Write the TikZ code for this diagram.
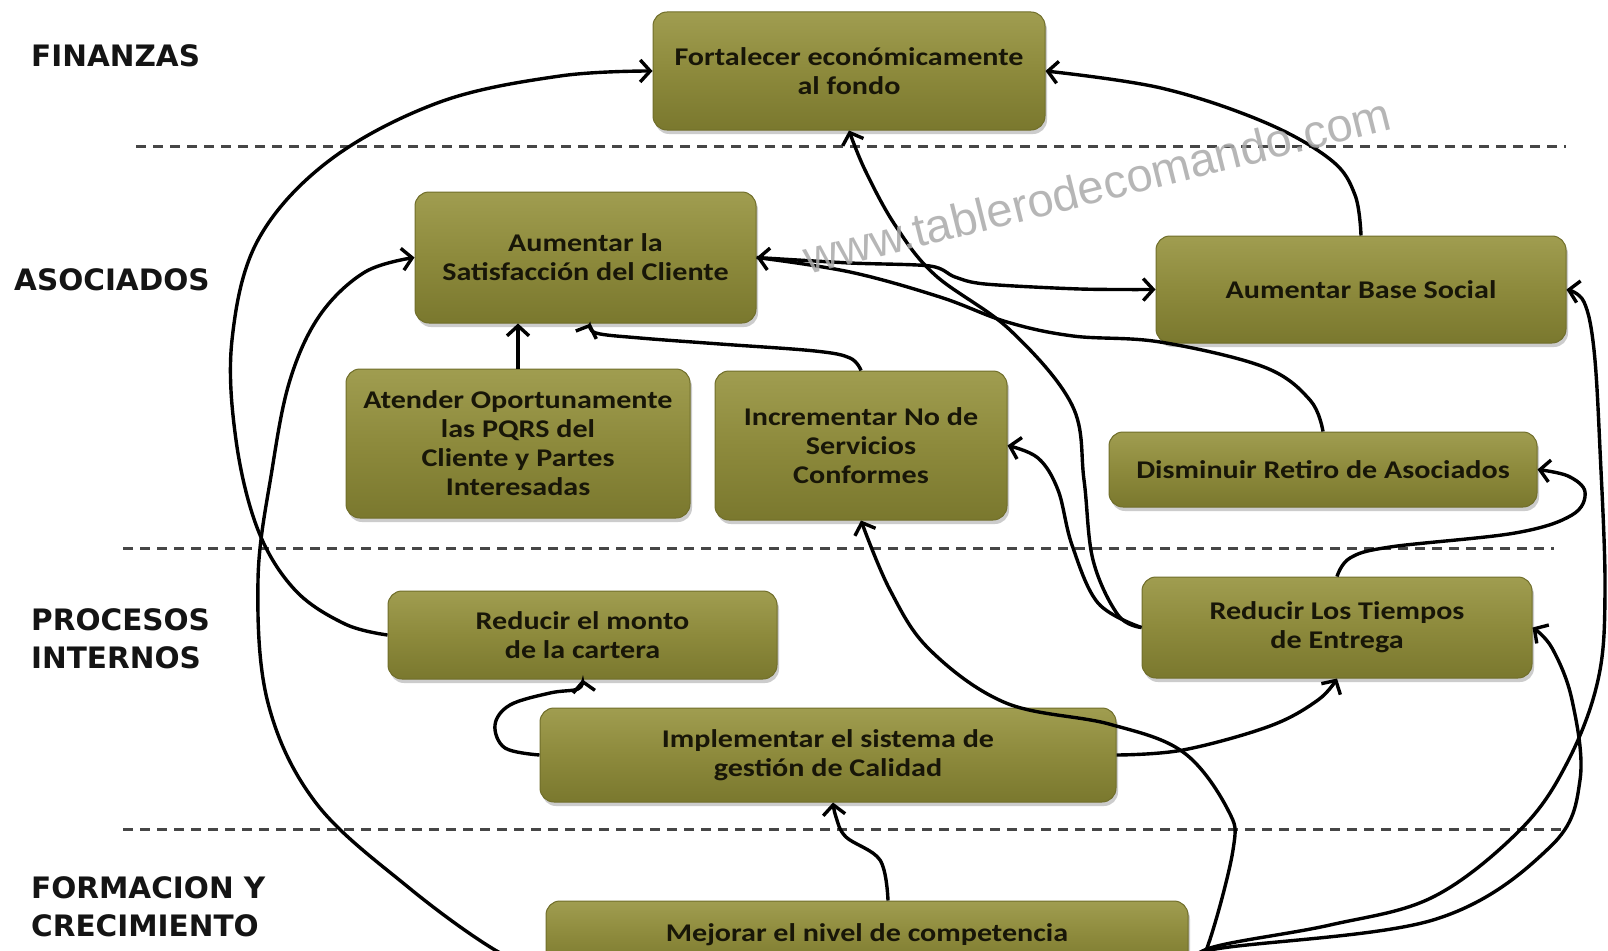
\documentclass[tikz,border=0pt]{standalone}
\usepackage{fontspec}
\newfontfamily\boxfont[FakeStretch=1.18]{Carlito}
\newfontfamily\labfont{DejaVu Sans}
\newfontfamily\wmfont{Liberation Sans}
\usetikzlibrary{arrows.meta,shadows,calc}
\definecolor{boxtop}{RGB}{160,157,80}
\definecolor{boxmid}{RGB}{141,138,60}
\definecolor{boxbot}{RGB}{122,120,46}
\definecolor{boxedge}{RGB}{112,110,42}
\definecolor{txtc}{RGB}{24,22,8}
\definecolor{dashc}{RGB}{70,70,70}
\definecolor{wmc}{RGB}{170,170,170}
\tikzset{
  box/.style={rectangle, rounded corners=14pt, top color=boxtop, bottom color=boxbot, middle color=boxmid,
    draw=boxedge, line width=1pt, drop shadow={opacity=0.4,shadow xshift=2pt,shadow yshift=-4pt},
    font=\boxfont\bfseries\fontsize{25.5}{29}\selectfont, text=txtc, align=center, inner sep=0pt},
  conn/.style={line width=3.4pt, black, -{Straight Barb[length=10pt,width=22pt]}},
  lane/.style={dashc, line width=3pt, dash pattern=on 10pt off 7pt},
  lab/.style={font=\labfont\bfseries\fontsize{29.5}{38}\selectfont, text=black!92, anchor=west, align=left, inner sep=0pt},
  wmark/.style={font=\wmfont\fontsize{47}{50}\selectfont, text=wmc, text opacity=0.85, anchor=base, inner sep=0pt}
}
\begin{document}
\begin{tikzpicture}[x=1pt,y=-1pt]
\useasboundingbox (0,0) rectangle (1608,950);
\fill[white] (0,0) rectangle (1608,950);

% lane separators
\draw[lane] (136,146) -- (1566,146);
\draw[lane] (123,548) -- (1554,548);
\draw[lane] (123,829) -- (1566,829);

% lane labels
\node[lab] (lf) at (31,56) {FINANZAS};
\node[lab] (la) at (14,280) {ASOCIADOS};
\node[lab] (lp) at (31,639) {PROCESOS\\INTERNOS};
\node[lab] (lc) at (31,906.5) {FORMACION Y\\CRECIMIENTO};

% boxes
\node[box, minimum width=392pt, minimum height=118pt] (F) at (849,71) {Fortalecer económicamente\\al fondo};
\node[box, minimum width=341pt, minimum height=131pt] (S) at (585.5,257.5) {Aumentar la\\Satisfacción del Cliente};
\node[box, minimum width=410pt, minimum height=107pt] (B) at (1361,289.5) {Aumentar Base Social};
\node[box, minimum width=344pt, minimum height=149pt] (A) at (518,443.5) {Atender Oportunamente\\las PQRS del\\Cliente y Partes\\Interesadas};
\node[box, minimum width=292pt, minimum height=149pt] (I) at (861,445.5) {Incrementar No de\\Servicios\\Conformes};
\node[box, minimum width=428pt, minimum height=75pt] (D) at (1323,469.5) {Disminuir Retiro de Asociados};
\node[box, minimum width=389pt, minimum height=88pt] (M) at (582.5,635) {Reducir el monto\\de la cartera};
\node[box, minimum width=390pt, minimum height=101pt] (T) at (1337,627.5) {Reducir Los Tiempos\\de Entrega};
\node[box, minimum width=576pt, minimum height=94pt] (Q) at (828,755) {Implementar el sistema de\\gestión de Calidad};
\node[box, minimum width=642pt, minimum height=68pt] (C) at (867,935) {Mejorar el nivel de competencia};

% connectors
\draw[conn] plot[smooth, tension=0.6] coordinates {(M.west) (345,624) (295,590) (258,530) (236,440) (232,340) (258,240) (330,160) (440,102) (560,76) (F.west)};
\draw[conn] plot[smooth, tension=0.6] coordinates {(C.south west) (495,950) (408,887) (316,803) (268,703) (258,580) (272,470) (290,380) (320,315) (365,272) (S.west)};
\draw[conn] plot[smooth, tension=0.5] coordinates {(S.east) (850,263) (930,266) (955,277) (985,284) (1080,289) (B.west)};
\draw[conn] plot[smooth, tension=0.6] coordinates {(D.north) (1310,400) (1264,367) (1160,342) (1073,336) (1007,322) (940,297) (850,272) (S.east)};
\draw[conn] plot[smooth, tension=0.6] coordinates {(B.north) (1355,195) (1331,160) (1264,122) (1161,88) (F.east)};
\draw[conn] plot[smooth, tension=0.6] coordinates {(T.west) (1118,615) (1093,560) (1084,480) (1072,405) (1010,330) (935,275) (895,225) (865,170) (F.south)};
\draw[conn] plot[smooth, tension=0.6] coordinates {(T.west) (1098,603) (1072,545) (1058,490) (1038,458) (I.east)};
\draw[conn] plot[smooth, tension=0.6] coordinates {(T.north) (1350,558) (1390,547) (1515,533) (1572,515) (1585,492) (1568,476) (D.east)};
\draw[conn] plot[smooth, tension=0.6] coordinates {(C.south east) (1210,948) (1330,925) (1433,897) (1520,830) (1567,763) (1598,680) (1605,590) (1600,450) (1594,350) (1584,302) (B.east)};
\draw[conn] plot[smooth, tension=0.6] coordinates {(C.south east) (1210,950) (1433,920) (1550,847) (1580,780) (1572,700) (1552,648) (T.east)};
\draw[conn] plot[smooth, tension=0.6] coordinates {(Q.east) (1183,750) (1270,726) (1318,700) (T.south)};
\draw[conn] plot[smooth, tension=0.6] coordinates {(C.south east) (1207,948) (1233,850) (1228,810) (1183,752) (1109,724) (1006,703) (930,650) (890,590) (I.south)};
\draw[conn] plot[smooth, tension=0.6] coordinates {(Q.west) (505,748) (495,725) (510,705) (550,693) (578,689) (M.south)};
\draw[conn] plot[smooth, tension=0.6] coordinates {($(C.north)+(21,0)$) (880,860) (846,837) (836,817) ($(Q.south)+(5,0)$)};
\draw[conn] (A.north) -- (A.north |- S.south);
\draw[conn] plot[smooth, tension=0.6] coordinates {(I.north) (850,358) (815,351) (720,344) (640,338) (596,333) ($(S.south)+(5,0)$)};

% watermark
\node[wmark, rotate=14] (wm) at (1101,202) {www.tablerodecomando.com};
\end{tikzpicture}
\end{document}
